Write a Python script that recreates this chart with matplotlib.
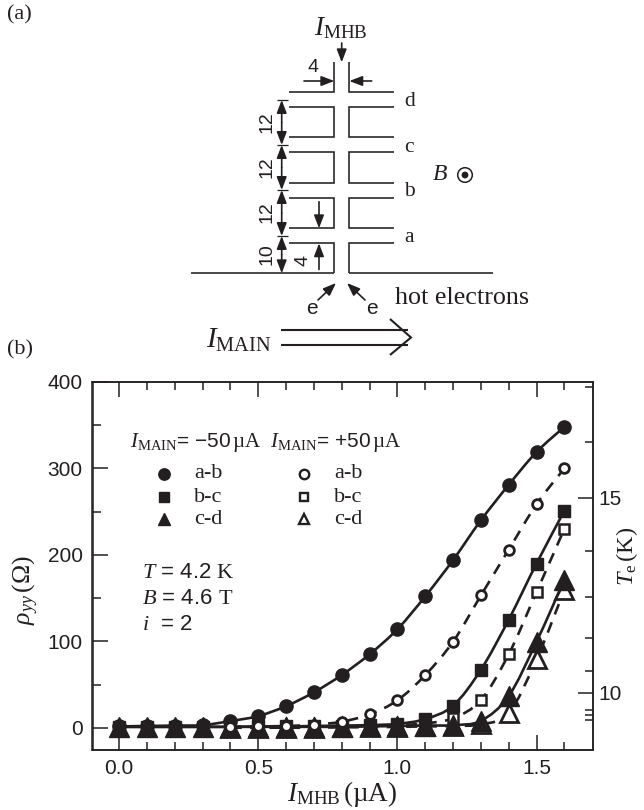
import matplotlib
matplotlib.use('Agg')
import matplotlib.pyplot as plt
from matplotlib.patches import Circle, PathPatch
from matplotlib.path import Path

plt.rcParams['font.family'] = ['Liberation Sans', 'DejaVu Sans']
plt.rcParams['mathtext.fontset'] = 'custom'
plt.rcParams['mathtext.rm'] = 'Liberation Serif'
plt.rcParams['mathtext.it'] = 'Liberation Serif:italic'
plt.rcParams['mathtext.bf'] = 'Liberation Serif:bold'

INK = '#231f20'

current = [0.0, 0.1, 0.2, 0.3, 0.4, 0.5, 0.6, 0.7, 0.8, 0.9, 1.0, 1.1, 1.2, 1.3, 1.4, 1.5, 1.6]
current_open = [0.4, 0.5, 0.6, 0.7, 0.8, 0.9, 1.0, 1.1, 1.2, 1.3, 1.4, 1.5, 1.6]

neg_ab = [1.5, 2, 2.5, 3, 7.7, 13.5, 25, 41, 61, 85, 114, 152, 194, 240, 281, 319, 348]
neg_bc = [1, 1, 1, 1, 1, 1.5, 1.5, 2, 2.5, 3, 4.5, 10, 25.5, 67, 125, 190, 251]
neg_cd = [1, 1, 1, 1, 1, 1, 1, 1, 1, 1.5, 2, 2.5, 3, 8, 36.7, 99.5, 171]
pos_ab = [1, 1.5, 2, 3.5, 7, 15.5, 31.7, 61, 99.5, 153, 206, 258.5, 300]
pos_bc = [0.5, 0.5, 1, 1, 1.5, 2, 3, 5, 11, 32, 85, 157, 230]
pos_cd = [0, 0, 0, 0, 0.5, 0.5, 1, 1.5, 2, 4, 17, 79, 159.4]

x_ticks = [0.0, 0.5, 1.0, 1.5]
x_minor = [0.1, 0.2, 0.3, 0.4, 0.6, 0.7, 0.8, 0.9, 1.1, 1.2, 1.3, 1.4, 1.6]
y_ticks = [0, 100, 200, 300, 400]
y_minor = [50, 150, 250, 350]

# Te scale is not linear, so ticks are given as rho_yy positions
te_major = [40.5, 266]
te_labels = ['10', '15']
te_minor = [9, 15, 20, 66, 104, 151, 204, 331, 394]

W, H = 644, 810
fig = plt.figure(figsize=(W / 100, H / 100), dpi=100)

ax = fig.add_axes([92.5 / W, 1 - 749.5 / H, 500.5 / W, 367.5 / H])
ax.set_xlim(-0.096, 1.703)
ax.set_ylim(-25.2, 400)


def curve(xs, ys, **kw):
    # smooth guide line through the points (Catmull-Rom as bezier segments)
    verts = [(xs[0], ys[0])]
    codes = [Path.MOVETO]
    n = len(xs)
    for i in range(n - 1):
        a, d = max(i - 1, 0), min(i + 2, n - 1)
        verts.append((xs[i] + (xs[i + 1] - xs[a]) / 6, ys[i] + (ys[i + 1] - ys[a]) / 6))
        verts.append((xs[i + 1] - (xs[d] - xs[i]) / 6, ys[i + 1] - (ys[d] - ys[i]) / 6))
        verts.append((xs[i + 1], ys[i + 1]))
        codes += [Path.CURVE4] * 3
    ax.add_patch(PathPatch(Path(verts, codes), fc='none', ec=INK, lw=1.9, zorder=2, **kw))


for vals in (neg_ab, neg_bc, neg_cd):
    curve(current, vals)
for vals in (pos_ab, pos_bc, pos_cd):
    curve(current_open, vals, linestyle=(0, (4.2, 3.2)))

ax.plot(current_open, pos_cd, '^', ms=12.5, mfc='white', mec=INK, mew=2, zorder=3)
ax.plot(current_open, pos_bc, 's', ms=6.5, mfc='white', mec=INK, mew=1.8, zorder=3)
ax.plot(current, neg_ab, 'o', ms=9.5, color=INK, zorder=3)
ax.plot(current, neg_bc, 's', ms=8.4, color=INK, zorder=4)
ax.plot(current, neg_cd, '^', ms=14.5, color=INK, zorder=5)
ax.plot(current_open, pos_ab, 'o', ms=7, mfc='white', mec=INK, mew=2, zorder=6)

ax.set_xticks(x_ticks)
ax.set_xticks(x_minor, minor=True)
ax.set_yticks(y_ticks)
ax.set_yticks(y_minor, minor=True)
ax.tick_params(which='major', direction='in', length=10.5, width=1.1, color=INK,
               top=True, labelsize=15, labelcolor=INK, pad=7)
ax.tick_params(which='minor', direction='in', length=6, width=1.1, color=INK, top=True)
ax.set_xticklabels(['0.0', '0.5', '1.0', '1.5'])
for side in ax.spines.values():
    side.set_linewidth(1.1)
    side.set_color(INK)

right = ax.twinx()
right.set_ylim(ax.get_ylim())
right.set_yticks(te_major, te_labels)
right.set_yticks(te_minor, minor=True)
right.tick_params(which='major', direction='in', length=10.5, width=1.1, color=INK,
                  labelsize=15, labelcolor=INK, pad=4)
right.tick_params(which='minor', direction='in', length=6, width=1.1, color=INK)
for side in right.spines.values():
    side.set_linewidth(1.1)
    side.set_color(INK)

# overlay in reference pixels for the sample sketch and the text
ov = fig.add_axes([0, 0, 1, 1], zorder=10)
ov.set_xlim(0, W)
ov.set_ylim(H, 0)
ov.axis('off')
ov.patch.set_alpha(0)


def line(xs, ys, lw=1.15):
    ov.plot(xs, ys, color=INK, lw=lw, solid_capstyle='butt', solid_joinstyle='miter')


def arrow(x0, y0, x1, y1, lw=1.2, scale=13):
    ov.annotate('', xy=(x1, y1), xytext=(x0, y0),
                arrowprops=dict(arrowstyle='-|>,head_length=0.6,head_width=0.23', color=INK,
                                lw=lw, mutation_scale=scale, shrinkA=0, shrinkB=0))


def label(x, y, s, size=12.5, **kw):
    kw.setdefault('ha', 'left')
    kw.setdefault('va', 'center')
    ov.text(x, y, s, fontsize=size, color=INK, **kw)


def serif(x, y, s, size=13, **kw):
    label(x, y, s, size=size, family='Liberation Serif', **kw)


# channel walls
for x_c, x_e in [(334.3, 289.3), (349.3, 394.3)]:
    line([x_c, x_c, x_e], [62.3, 91.7, 91.7])
    for top, bottom in [(107.3, 137), (152.3, 182.7), (198, 228.3)]:
        line([x_e, x_c, x_c, x_e], [top, top, bottom, bottom])
line([289.3, 334.3, 334.3], [243.3, 243.3, 273.3])
line([394.3, 349.3, 349.3], [243.3, 243.3, 273.3])
line([190.7, 334.3], [273.3, 273.3])
line([349.3, 492.7], [273.3, 273.3])

# spacing arrows
marks = [100, 145, 190, 236, 273.3]
for y0, y1 in zip(marks[:-1], marks[1:]):
    arrow(281.7, (y0 + y1) / 2, 281.7, y0)
    arrow(281.7, (y0 + y1) / 2, 281.7, y1)
for y0 in marks[:-1]:
    line([277, 288], [y0, y0], lw=0.9)
for y0, s in [(122, '12'), (167, '12'), (212, '12'), (254, '10')]:
    label(267, y0, s, size=14, rotation=90, ha='center')
label(303, 260, '4', size=14, rotation=90, ha='center')
label(313.5, 67, '4', size=14, ha='center')
arrow(319, 201.7, 319, 228.3)
arrow(319, 269.5, 319, 243.3)
arrow(304, 81, 334.3, 81)
arrow(371.7, 81, 349.3, 81)
arrow(341.7, 43, 341.7, 62.3)

serif(341, 28, r'$I_{\mathrm{MHB}}$', size=19.5, ha='center')
for y0, s in [(101, 'd'), (147, 'c'), (192, 'b'), (238, 'a')]:
    serif(404, y0, s, size=15.5)
serif(432, 175, r'$B$', size=17)
ov.add_patch(Circle((465, 175), 7.3, fc='white', ec=INK, lw=1.1))
ov.add_patch(Circle((465, 175), 3.4, fc=INK, ec='none'))

arrow(318, 300, 336, 283)
arrow(365, 300, 347, 283)
label(312, 308, 'e', size=15, ha='center')
label(372, 308, 'e', size=15, ha='center')
serif(395, 298, 'hot electrons', size=18.8)

serif(206, 340, r'$I_{\mathrm{MAIN}}$', size=21)
line([281, 408], [330, 330], lw=1.5)
line([281, 408], [345, 345], lw=1.5)
line([390, 411, 390], [319, 337.5, 355], lw=1.5)

serif(7, 15, '(a)', size=16)
serif(7, 350, '(b)', size=16)

# legend
label(130, 442, r'$I_{\mathrm{MAIN}}$= −50$\,\mathrm{µA}$', size=15)
label(270, 442, r'$I_{\mathrm{MAIN}}$= +50$\,\mathrm{µA}$', size=15)
rows = [(474, 'o', 'a-b', 8.2), (497, 's', 'b-c', 7.2), (519, '^', 'c-d', 9)]
for y0, mk, s, ms in rows:
    ov.plot([164], [y0], mk, ms=ms, color=INK)
    ov.plot([304], [y0], mk, ms=ms - 1.4, mfc='white', mec=INK, mew=1.7)
    serif(194, y0, s, size=16)
    serif(334, y0, s, size=16)

label(142, 572, r'$T$ = 4.2 $\mathrm{K}$', size=16)
label(142, 598, r'$B$ = 4.6 $\mathrm{T}$', size=16)
label(142, 625, r'$i$  = 2', size=16)

serif(26, 590, r'$\rho_{yy}\,(\Omega)$', size=18.5, rotation=90, ha='center')
serif(627, 556, r'$T_{\mathrm{e}}\,(\mathrm{K})$', size=17.5, rotation=90, ha='center')
serif(342, 794, r'$I_{\mathrm{MHB}}\,(\mathrm{µA})$', size=19.5, ha='center')

fig.savefig('out.png', dpi=100)
plt.close(fig)
